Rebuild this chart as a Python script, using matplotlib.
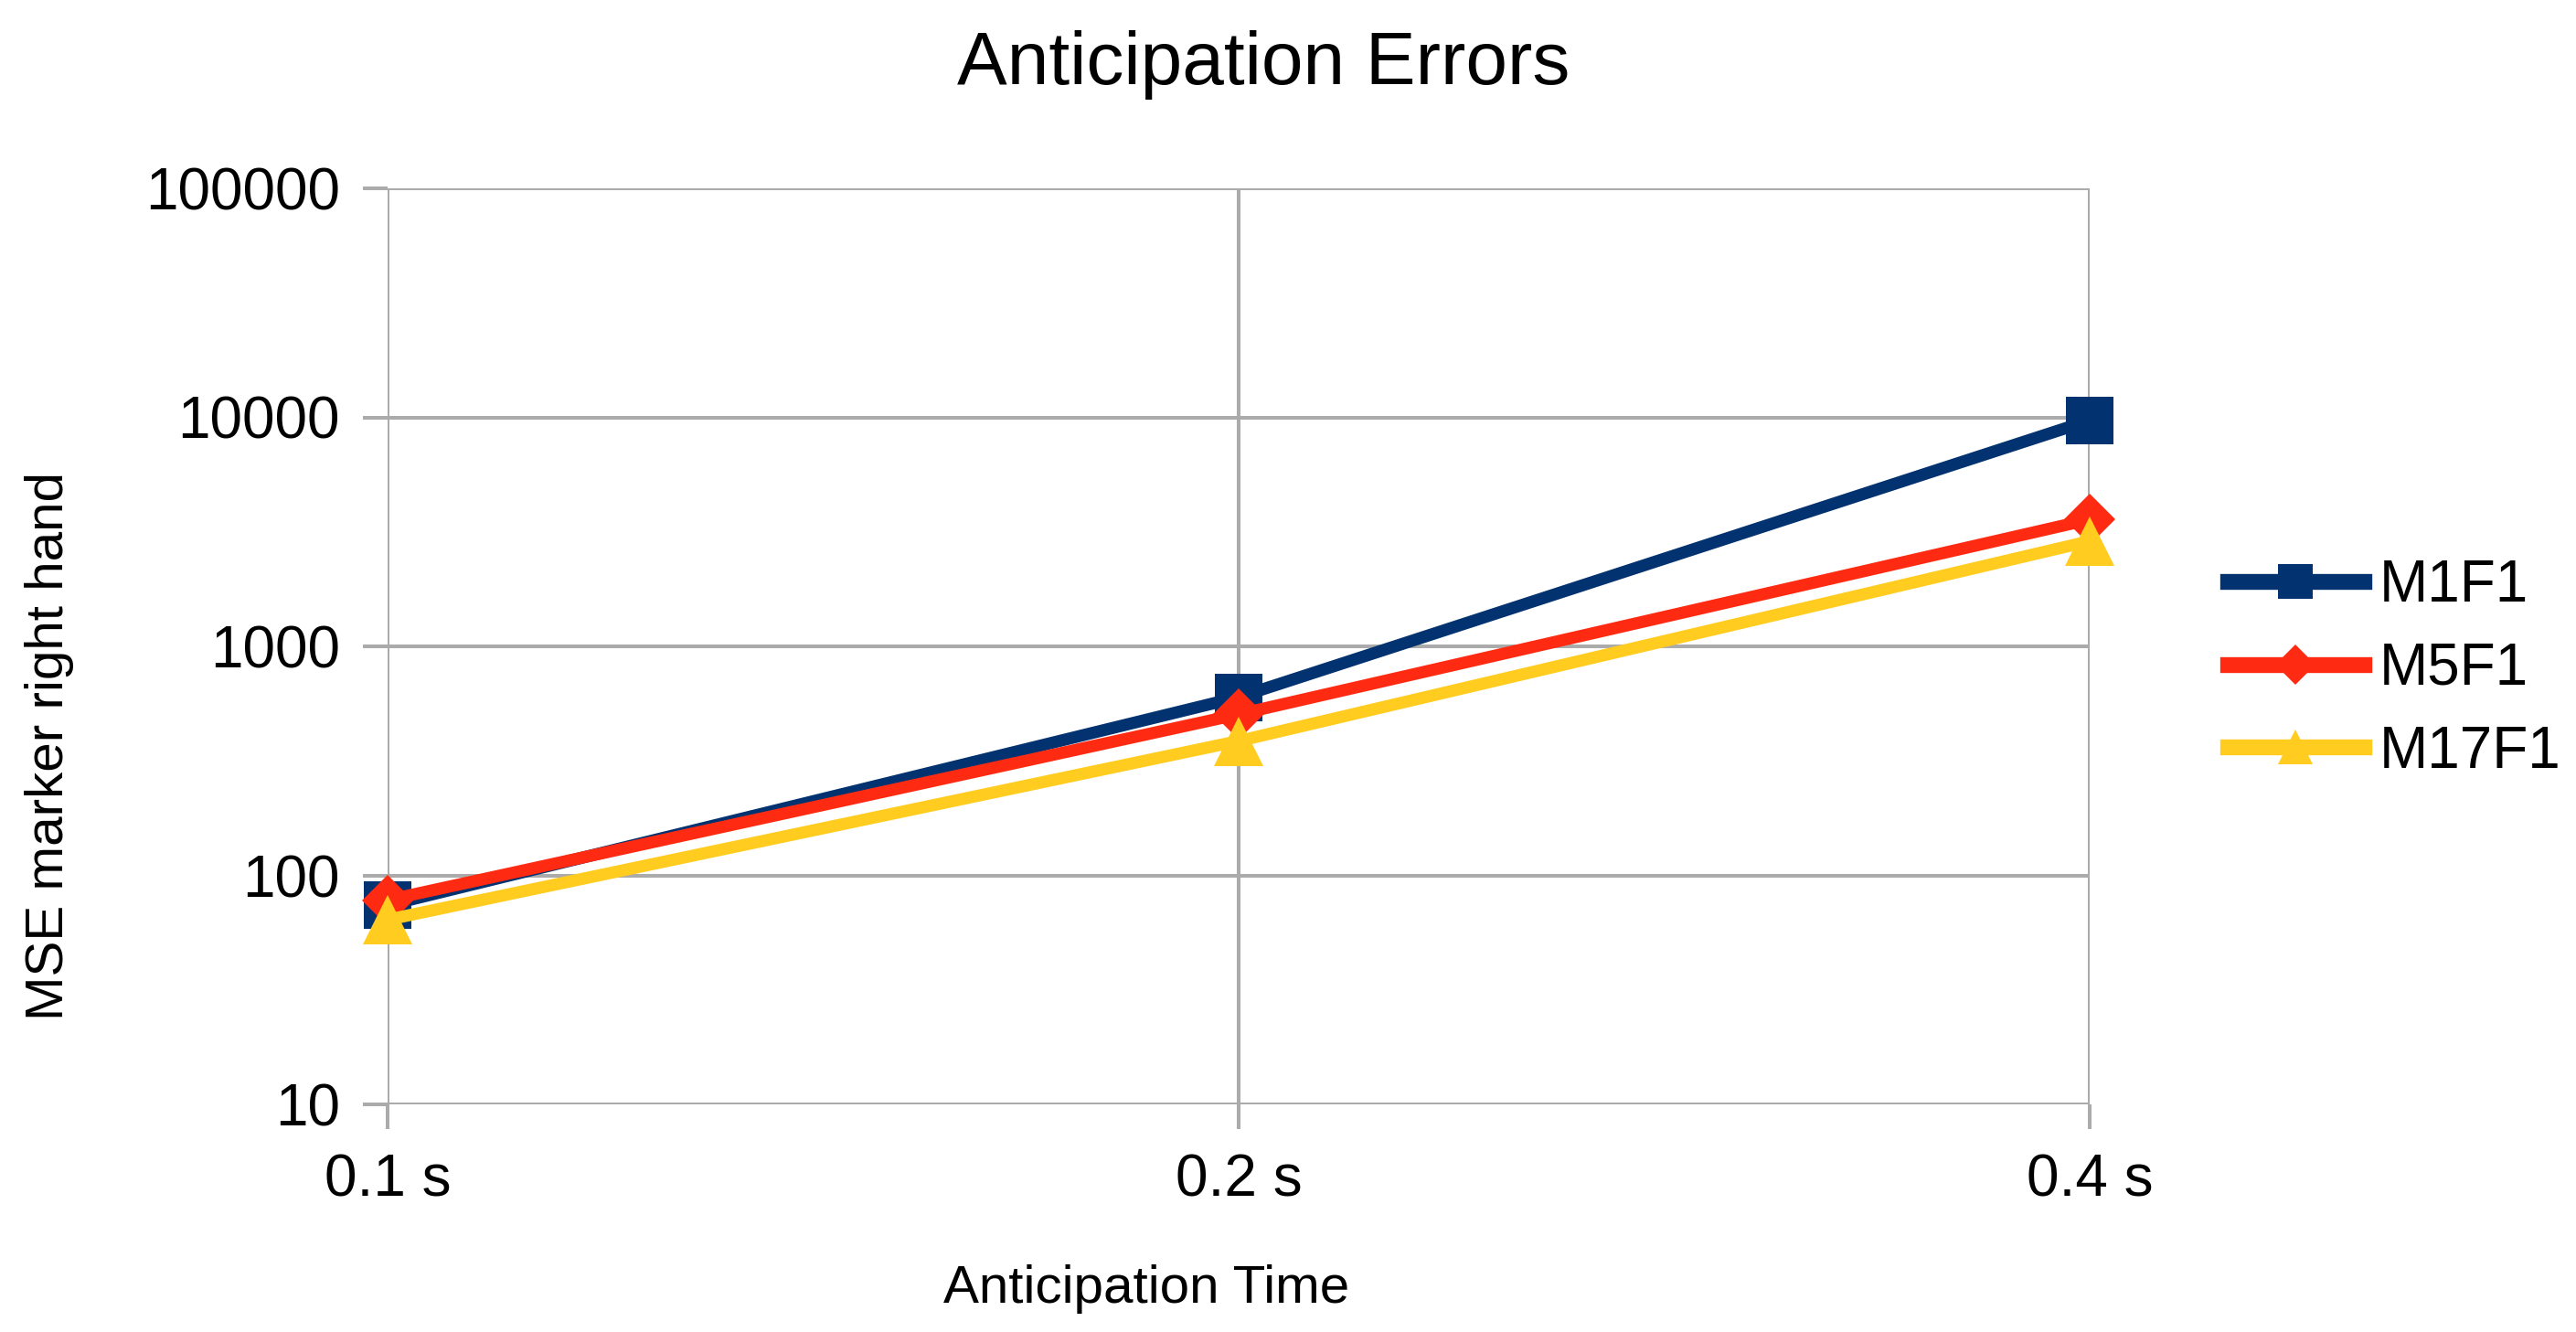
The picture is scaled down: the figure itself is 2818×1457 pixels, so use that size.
import numpy as np
from matplotlib import pyplot as plt
from matplotlib.lines import Line2D

categories = ['0.1 s', '0.2 s', '0.4 s']
m1f1 = [74, 600, 9700]
m5f1 = [78, 505, 3580]
m17f1 = [64, 386, 2880]
y_ticks = [10, 100, 1000, 10000, 100000]

series = [
    ('M1F1', m1f1, '#02326f', 's'),
    ('M5F1', m5f1, '#ff2a12', 'D'),
    ('M17F1', m17f1, '#ffcc1f', '^'),
]
marker_size = {'s': 38, 'D': 29, '^': 39}
legend_marker_size = {'s': 28, 'D': 22, '^': 28}

plt.rcParams['font.family'] = ['Liberation Sans', 'DejaVu Sans']

W, H = 2818, 1457
fig = plt.figure(figsize=(W / 100, H / 100), dpi=100)
ax = fig.add_axes([424 / W, 1 - 1208 / H, (2286 - 424) / W, (1208 - 206) / H])

x = np.arange(len(categories))
for name, vals, color, mk in series:
    ax.plot(x, vals, color=color, lw=9.5, marker=mk, markersize=marker_size[mk],
            markeredgewidth=0, label=name, zorder=3, clip_on=False)

ax.set_yscale('log')
ax.set_ylim(10, 100000)
ax.set_xlim(0, len(categories) - 1)
ax.set_yticks(y_ticks)
ax.set_yticklabels([str(v) for v in y_ticks])
ax.minorticks_off()
ax.set_xticks(x)
ax.set_xticklabels(categories)

ax.grid(True, color='#ababab', lw=2.9)
for s in ax.spines.values():
    s.set_visible(False)
ax.tick_params(axis='both', length=19.5, width=2.9, color='#ababab',
               labelsize=46, pad=18)
ax.tick_params(axis='x', pad=19)

fig.text(0.4905, 1 - 92 / H, 'Anticipation Errors', ha='center', va='baseline', fontsize=59)
fig.text(1254 / W, 1 - 1425 / H, 'Anticipation Time', ha='center', va='baseline', fontsize=42)
fig.text(54 / W, 0.44, 'MSE marker right hand', ha='center', va='center',
         rotation=90, fontsize=42)

handles = [Line2D([], [], color=c, lw=12.5, marker=m, markersize=legend_marker_size[m],
                  markeredgewidth=0) for _, _, c, m in series]
fig.legend(handles, [s[0] for s in series], loc='center left',
           bbox_to_anchor=(2437 / W, 1 - 732 / H), frameon=False, fontsize=46,
           borderpad=0, borderaxespad=0,
           handlelength=2.33, handletextpad=0.27, labelspacing=0.48)

fig.savefig('out.png', dpi=100)
